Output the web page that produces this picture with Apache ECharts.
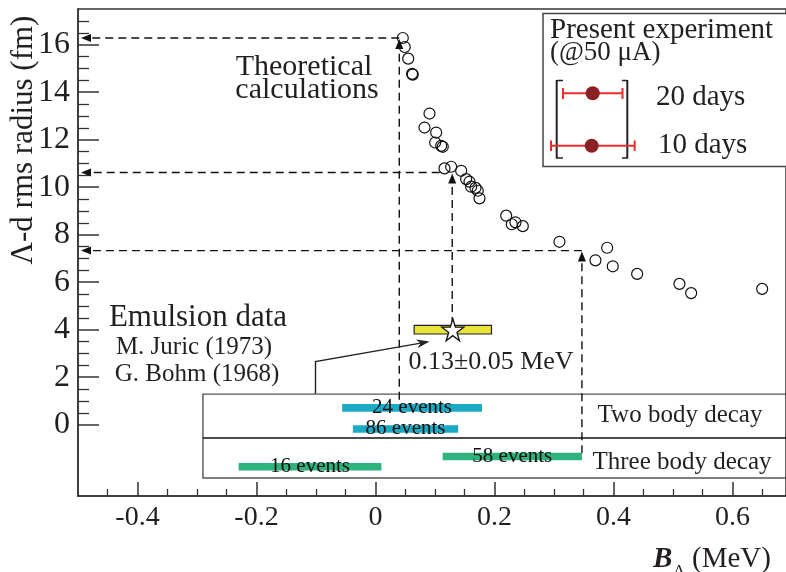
<!DOCTYPE html>
<html>
<head>
<meta charset="utf-8">
<script src="https://cdn.jsdelivr.net/npm/echarts@6/dist/echarts.min.js"></script>
<style>
html, body { margin: 0; padding: 0; background: #fff; }
#main { width: 786px; height: 572px; }
</style>
</head>
<body>
<div id="main"></div>
<script>
// theoretical calculations: B_Lambda (MeV) -> Lambda-d rms radius (fm)
var theoryB = [0.0459, 0.0492, 0.0550, 0.0627, 0.0615, 0.0908, 0.0824, 0.1020, 0.1003, 0.1104,
               0.1131, 0.1160, 0.1272, 0.1440, 0.1524, 0.1580, 0.1608, 0.1681, 0.1719, 0.1748,
               0.2197, 0.2291, 0.2353, 0.2476, 0.3092, 0.3894, 0.3697, 0.3988, 0.4398, 0.5109,
               0.5306, 0.6499];
var theoryR = [16.28, 15.90, 15.41, 14.74, 14.77, 13.10, 12.51, 12.30, 11.88, 11.74,
               11.70, 10.79, 10.86, 10.69, 10.34, 10.23, 10.02, 9.97, 9.85, 9.53,
               8.80, 8.44, 8.52, 8.36, 7.70, 7.45, 6.92, 6.67, 6.35, 5.93,
               5.54, 5.72];

// emulsion world average 0.13 +- 0.05 MeV (drawn bar and star)
var emulsionB = 0.13;
var emulsionLo = 0.065;
var emulsionHi = 0.195;
var emulsionR = 4.0;

// emulsion event samples
var eventLabels = ['24 events', '86 events', '16 events', '58 events'];
var eventFrom = [-0.056, -0.038, -0.230, 0.113];
var eventTo = [0.179, 0.139, 0.010, 0.347];
var eventRow = [0.71, -0.18, -1.77, -1.34];
var eventColor = ['#1ba9c6', '#1ba9c6', '#2db37b', '#2db37b'];

// dashed guide lines: B value, radius, bottom of vertical, right end of horizontal
var guideB = [0.040, 0.129, 0.347];
var guideR = [16.28, 10.62, 7.33];
var guideBottom = [1.05, 4.2, -1.2];
var guideEnd = [0.040, 0.108, 0.347];

// ticks
var xTicks = [-0.4, -0.2, 0, 0.2, 0.4, 0.6];
var xMinor = [-0.45, -0.35, -0.3, -0.25, -0.15, -0.1, -0.05, 0.05, 0.1, 0.15,
              0.25, 0.3, 0.35, 0.45, 0.5, 0.55, 0.65];
var yTicks = [0, 2, 4, 6, 8, 10, 12, 14, 16];
var yMinor = [0.5, 1, 1.5, 2.5, 3, 3.5, 4.5, 5, 5.5, 6.5, 7, 7.5, 8.5, 9, 9.5,
              10.5, 11, 11.5, 12.5, 13, 13.5, 14.5, 15, 15.5, 16.5, 17];

var SERIF = '"Liberation Serif", "Times New Roman", serif';
var INK = '#231f20';
var AXIS = '#333';
var DASH = [8, 5];

function txt(x, y, s, size, align, extra, rot) {
  return {
    type: 'text', x: x, y: y, silent: true, z: 20, rotation: rot || 0,
    style: Object.assign({
      text: s, font: size + 'px ' + SERIF, fill: INK,
      align: align || 'center', verticalAlign: 'middle',
      textAlign: align || 'center', textVerticalAlign: 'middle'
    }, extra || {})
  };
}
function seg(x1, y1, x2, y2, color, w) {
  return { type: 'line', silent: true, z: 20,
    shape: { x1: x1, y1: y1, x2: x2, y2: y2 },
    style: { stroke: color, lineWidth: w } };
}

var chart = echarts.init(document.getElementById('main'));

var red = '#ee2b2b';
var graphics = [
  // y axis title
  txt(24, 140, 'Λ-d rms radius (fm)', 31, 'center', {}, Math.PI / 2),
  // x axis title
  txt(653, 560, 'B', 29, 'left', { font: 'italic bold 29px ' + SERIF }),
  txt(673, 572, 'Λ', 17, 'left'),
  txt(692, 559, '(MeV)', 29, 'left'),
  // annotations
  txt(304, 67, 'Theoretical', 30),
  txt(307, 90, 'calculations', 30),
  txt(198, 318, 'Emulsion data', 31),
  txt(194, 347, 'M. Juric (1973)', 25),
  txt(197, 374, 'G. Bohm (1968)', 25),
  txt(491, 362, '0.13±0.05 MeV', 26),
  txt(680, 415, 'Two body decay', 25),
  txt(682, 462, 'Three body decay', 25),
  // legend box
  { type: 'rect', silent: true, z: 15,
    shape: { x: 543, y: 13.5, width: 300, height: 153 },
    style: { fill: '#fff', stroke: '#444', lineWidth: 1.5 } },
  txt(550, 30, 'Present experiment', 29, 'left'),
  txt(550, 53, '(@50 μA)', 27, 'left'),
  // brackets
  seg(556.7, 80, 556.7, 158.5, '#222', 2),
  seg(556.7, 80.5, 563, 80.5, '#222', 1.5),
  seg(556.7, 158, 563, 158, '#222', 1.5),
  seg(627.3, 80, 627.3, 158.5, '#222', 2),
  seg(627.3, 80.5, 622, 80.5, '#222', 1.5),
  seg(627.3, 158, 622, 158, '#222', 1.5),
  // 20 days
  seg(562.7, 93.3, 622.7, 93.3, red, 2),
  seg(563, 88, 563, 99, red, 2),
  seg(622.5, 88, 622.5, 99, red, 2),
  { type: 'circle', silent: true, z: 21, shape: { cx: 592.7, cy: 93.3, r: 7 }, style: { fill: '#8a1f24' } },
  txt(656, 97, '20 days', 29, 'left'),
  // 10 days
  seg(550.7, 145.7, 635, 145.7, red, 2),
  seg(551, 140.5, 551, 151, red, 2),
  seg(634.7, 140.5, 634.7, 151, red, 2),
  { type: 'circle', silent: true, z: 21, shape: { cx: 591.7, cy: 145.7, r: 7 }, style: { fill: '#8a1f24' } },
  txt(658, 145, '10 days', 29, 'left')
];

function renderGuide(params, api) {
  var b = api.value(0), r = api.value(1), bot = api.value(2), end = api.value(3);
  var top = api.coord([b, r]);
  var low = api.coord([b, bot]);
  var left = api.coord([-0.5, r]);
  var right = api.coord([end, r]);
  var tipY = top[1] + 1;
  var lineStyle = { stroke: '#111', lineWidth: 1.4, lineDash: DASH, fill: null };
  return {
    type: 'group',
    children: [
      { type: 'line', shape: { x1: low[0], y1: low[1], x2: top[0], y2: tipY + 9 }, style: lineStyle },
      { type: 'line', shape: { x1: right[0], y1: right[1], x2: left[0] + 12, y2: left[1] }, style: lineStyle },
      { type: 'polygon', shape: { points: [[top[0], tipY], [top[0] - 4, tipY + 10], [top[0] + 4, tipY + 10]] }, style: { fill: '#111' } },
      { type: 'polygon', shape: { points: [[left[0] + 3, left[1]], [left[0] + 13, left[1] - 4], [left[0] + 13, left[1] + 4]] }, style: { fill: '#111' } }
    ]
  };
}

function renderEvents(params, api) {
  var i = params.dataIndex;
  var a = api.coord([eventFrom[i], eventRow[i]]);
  var b = api.coord([eventTo[i], eventRow[i]]);
  return {
    type: 'group',
    children: [
      { type: 'rect', shape: { x: a[0], y: a[1] - 3.8, width: b[0] - a[0], height: 7.6 }, style: { fill: eventColor[i] } },
      { type: 'text', z2: 5, style: {
          text: eventLabels[i], x: (a[0] + b[0]) / 2, y: a[1] - 0.5,
          font: '21px ' + SERIF, fill: '#111',
          align: 'center', verticalAlign: 'middle', textAlign: 'center', textVerticalAlign: 'middle' } }
    ]
  };
}

function renderBox(params, api) {
  var tl = api.coord([-0.29, 1.29]);
  var mid = api.coord([-0.29, -0.56]);
  var br = api.coord([0.69, -2.24]);
  var st = { stroke: '#555', lineWidth: 1.4, fill: null };
  return {
    type: 'group',
    children: [
      { type: 'rect', shape: { x: tl[0], y: tl[1], width: br[0] - tl[0] + 2, height: br[1] - tl[1] }, style: st },
      { type: 'line', shape: { x1: mid[0], y1: mid[1], x2: br[0] + 2, y2: mid[1] }, style: { stroke: '#111', lineWidth: 1.4 } }
    ]
  };
}

function renderPointer(params, api) {
  var p0 = api.coord([-0.1008, 1.30]);
  var p1 = api.coord([-0.1008, 2.66]);
  var p2 = api.coord([0.0908, 3.50]);
  var dx = p2[0] - p1[0], dy = p2[1] - p1[1];
  var len = Math.sqrt(dx * dx + dy * dy);
  var ux = dx / len, uy = dy / len;
  var bx = p2[0] - ux * 13, by = p2[1] - uy * 13;
  var nx = -uy, ny = ux;
  return {
    type: 'group',
    children: [
      { type: 'polyline', shape: { points: [p0, p1, [p2[0] - ux * 6, p2[1] - uy * 6]] }, style: { stroke: '#222', lineWidth: 1.4, fill: null } },
      { type: 'polygon', shape: { points: [p2, [bx + nx * 4.5, by + ny * 4.5], [p2[0] - ux * 9, p2[1] - uy * 9], [bx - nx * 4.5, by - ny * 4.5]] }, style: { fill: '#222' } }
    ]
  };
}

function renderEmulsion(params, api) {
  var a = api.coord([emulsionLo, emulsionR]);
  var b = api.coord([emulsionHi, emulsionR]);
  return { type: 'rect', shape: { x: a[0], y: a[1] - 4.3, width: b[0] - a[0], height: 8.6 },
    style: { fill: '#e9e33c', stroke: '#222', lineWidth: 1.2 } };
}

var option = {
  animation: false,
  backgroundColor: '#fff',
  grid: { left: 78, right: 0, top: 9, bottom: 76, show: true, borderColor: AXIS, borderWidth: 1.5 },
  xAxis: [{
    type: 'value', min: -0.5, max: 0.69, position: 'bottom',
    axisLine: { onZero: false, lineStyle: { color: AXIS, width: 1.5 } },
    axisTick: { inside: true, length: 14, customValues: xTicks, lineStyle: { color: AXIS, width: 1.5 } },
    axisLabel: { customValues: xTicks, margin: 8, color: INK, fontFamily: SERIF, fontSize: 28,
      formatter: function (v) { return v === 0 ? '0' : v.toFixed(1); } },
    splitLine: { show: false }
  }, {
    type: 'value', min: -0.5, max: 0.69, position: 'bottom',
    axisLine: { show: false, onZero: false },
    axisTick: { inside: true, length: 7, customValues: xMinor, lineStyle: { color: AXIS, width: 1.3 } },
    axisLabel: { show: false },
    splitLine: { show: false }
  }],
  yAxis: [{
    type: 'value', min: -3, max: 17.5, position: 'left',
    axisLine: { onZero: false, lineStyle: { color: AXIS, width: 1.5 } },
    axisTick: { inside: true, length: 21, customValues: yTicks, lineStyle: { color: AXIS, width: 1.5 } },
    axisLabel: { customValues: yTicks, margin: 8, color: INK, fontFamily: SERIF, fontSize: 32 },
    splitLine: { show: false }
  }, {
    type: 'value', min: -3, max: 17.5, position: 'left',
    axisLine: { show: false, onZero: false },
    axisTick: { inside: true, length: 11, customValues: yMinor, lineStyle: { color: AXIS, width: 1.3 } },
    axisLabel: { show: false },
    splitLine: { show: false }
  }],
  graphic: graphics,
  series: [{
    type: 'custom', name: 'box', renderItem: renderBox, data: [[0, 0]], silent: true, z: 1
  }, {
    type: 'custom', name: 'guides', renderItem: renderGuide, silent: true, z: 2,
    data: guideB.map(function (b, i) { return [b, guideR[i], guideBottom[i], guideEnd[i]]; })
  }, {
    type: 'custom', name: 'events', renderItem: renderEvents, silent: true, z: 3,
    data: eventLabels.map(function (l, i) { return [eventFrom[i], eventRow[i]]; })
  }, {
    type: 'custom', name: 'pointer', renderItem: renderPointer, data: [[0, 0]], silent: true, z: 3
  }, {
    type: 'custom', name: 'emulsion', renderItem: renderEmulsion, data: [[emulsionB, emulsionR]], silent: true, z: 4
  }, {
    type: 'scatter', name: 'emulsion star', z: 5, silent: true,
    symbol: 'path://M50,0 L61,35 L98,35 L68,57 L79,91 L50,70 L21,91 L32,57 L2,35 L39,35 Z',
    symbolSize: 22,
    itemStyle: { color: '#fff', borderColor: '#111', borderWidth: 1.3, opacity: 1 },
    data: [[emulsionB, emulsionR]]
  }, {
    type: 'scatter', name: 'Theoretical calculations', z: 6, silent: true,
    symbol: 'circle', symbolSize: 11,
    itemStyle: { color: 'rgba(255,255,255,0)', borderColor: '#111', borderWidth: 1.2, opacity: 1 },
    data: theoryB.map(function (b, i) { return [b, theoryR[i]]; })
  }]
};

chart.setOption(option);
</script>
</body>
</html>
